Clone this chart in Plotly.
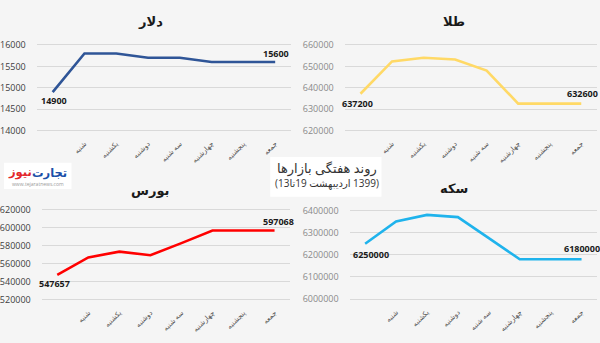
import plotly.graph_objects as go

# Weekly market trend, 13–19 Ordibehesht 1399
days = ["شنبه", "یکشنبه", "دوشنبه", "سه شنبه", "چهارشنبه", "پنجشنبه", "جمعه"]
positions = list(range(8))  # index 0 = previous close, 1..7 = the week's days

dollar = [14900, 15800, 15800, 15700, 15700, 15600, 15600, 15600]
gold = [637200, 652300, 654000, 653200, 648000, 632600, 632600, 632600]
bourse = [547657, 567000, 573500, 569500, 583000, 597068, 597068, 597068]
coin = [6250000, 6350000, 6380000, 6370000, 6275000, 6180000, 6180000, 6180000]

titles = ["دلار", "طلا", "بورس", "سکه"]
colors = ["#2f5597", "#ffd966", "#ff0000", "#1fb3ec"]
y_ticks = [
    [14000, 14500, 15000, 15500, 16000],
    [620000, 630000, 640000, 650000, 660000],
    [520000, 540000, 560000, 580000, 600000, 620000],
    [6000000, 6100000, 6200000, 6300000, 6400000],
]
series = [dollar, gold, bourse, coin]

W, H = 600, 343
BG = "#f5f5f5"
FONT = "Open Sans, DejaVu Sans, sans-serif"
LRM, LRE, PDF = "\u200e", "\u202a", "\u202c"

# panel geometry in pixels: x0, x1, pixel of top tick, pixel of bottom tick, title centre
panels = [
    (33, 289, 41, 129, 147, 16),
    (343, 597, 41, 129, 453, 16),
    (38, 288, 210.5, 302.5, 147, 190),
    (348, 597, 211, 302, 453, 188),
]
label_colors = ["#404040", "#8a8a8a", "#404040", "#8a8a8a"]
# offsets of the first / last value labels (x shift, y shift) in pixels
first_shift = [(1, -8), (-3, -10), (-3, -9), (6, -11)]
last_shift = [(1, 9), (1, 10), (4, 9), (0, 11)]

fig = go.Figure()
layout = {}
annotations = []
PAD = 0.02
for i, (vals, col, ticks, geo) in enumerate(zip(series, colors, y_ticks, panels)):
    x0, x1, ptop, pbot, tx, ty = geo
    n = i + 1
    sfx = "" if n == 1 else str(n)
    vmin, vmax = ticks[0], ticks[-1]
    span = vmax - vmin
    pspan = pbot - ptop
    rng = [vmin - PAD * span, vmax + PAD * span]
    dom_top = ptop - PAD * pspan
    dom_bot = pbot + PAD * pspan

    fig.add_trace(go.Scatter(
        x=positions, y=vals, mode="lines",
        line=dict(color=col, width=2.6),
        hoverinfo="skip", xaxis=f"x{sfx}", yaxis=f"y{sfx}",
        showlegend=False,
    ))

    # value labels on the first and last points
    for idx, (dx, dy) in ((0, first_shift[i]), (len(vals) - 1, last_shift[i])):
        annotations.append(dict(
            x=positions[idx], y=vals[idx], xref=f"x{sfx}", yref=f"y{sfx}",
            text=f"<b>{vals[idx]}</b>", showarrow=False,
            xshift=dx, yshift=dy, xanchor="center", yanchor="middle",
            font=dict(family=FONT, size=9, color="#1a1a1a"),
        ))

    layout[f"xaxis{sfx}"] = dict(
        domain=[x0 / W, x1 / W], range=[-0.5, 7.5],
        tickmode="array", tickvals=positions[1:], ticktext=days,
        tickangle=-45, tickfont=dict(family=FONT, size=7, color="#505050"),
        showgrid=False, zeroline=False, showline=False, ticks="",
        ticklabelstandoff=5,
        anchor=f"y{sfx}", fixedrange=True,
    )
    layout[f"yaxis{sfx}"] = dict(
        domain=[1 - dom_bot / H, 1 - dom_top / H], range=rng,
        tickmode="array", tickvals=ticks, ticktext=[str(t) for t in ticks],
        tickfont=dict(family=FONT, size=9, color=label_colors[i]),
        showgrid=True, gridcolor="#d9d9d9", gridwidth=1,
        zeroline=False, showline=False, ticks="", ticklabelstandoff=10,
        anchor=f"x{sfx}", fixedrange=True,
    )

for (x0, x1, ptop, pbot, tx, ty), title in zip(panels, titles):
    annotations.append(dict(
        x=tx / W, y=1 - ty / H, xref="paper", yref="paper",
        text=f"<b>{title}</b>", showarrow=False, align="center",
        font=dict(family=FONT, size=13, color="#1a1a1a"),
        xanchor="center", yanchor="middle",
    ))

# centre caption box
annotations.append(dict(
    x=325 / W, y=1 - 167 / H, xref="paper", yref="paper",
    text="روند هفتگی بازارها", showarrow=False, align="center",
    font=dict(family=FONT, size=13, color="#333333"),
    xanchor="center", yanchor="middle",
))
annotations.append(dict(
    x=325 / W, y=1 - 183 / H, xref="paper", yref="paper",
    text=LRE + "(13" + "تا" + LRM + "19 " + "اردیبهشت" + LRM + " 1399)" + PDF,
    showarrow=False, align="center",
    font=dict(family=FONT, size=10, color="#333333"),
    xanchor="center", yanchor="middle",
))

# site logo
annotations.append(dict(
    x=46 / W, y=1 - 172 / H, xref="paper", yref="paper",
    text="<b>تجارت</b>", showarrow=False, align="center",
    font=dict(family=FONT, size=11.5, color="#1b4fa8"),
    xanchor="center", yanchor="middle",
))
annotations.append(dict(
    x=16 / W, y=1 - 172 / H, xref="paper", yref="paper",
    text="<b>نیوز</b>", showarrow=False, align="center",
    font=dict(family=FONT, size=11.5, color="#e3262b"),
    xanchor="center", yanchor="middle",
))
annotations.append(dict(
    x=34 / W, y=1 - 184 / H, xref="paper", yref="paper",
    text="www.tejaratnews.com", showarrow=False,
    font=dict(family=FONT, size=5, color="#9a9a9a"),
    xanchor="center", yanchor="middle",
))

shapes = [
    dict(type="rect", xref="paper", yref="paper",
         x0=268 / W, x1=380 / W, y0=1 - 197 / H, y1=1 - 156 / H,
         fillcolor="white", line=dict(width=0), layer="below"),
    dict(type="rect", xref="paper", yref="paper",
         x0=0, x1=68 / W, y0=1 - 189 / H, y1=1 - 162 / H,
         fillcolor="white", line=dict(width=0), layer="below"),
]

fig.update_layout(
    width=W, height=H, margin=dict(l=0, r=0, t=0, b=0),
    paper_bgcolor=BG, plot_bgcolor=BG,
    annotations=annotations, shapes=shapes,
    **layout,
)

fig.write_html("out.html", config={"displayModeBar": False})
